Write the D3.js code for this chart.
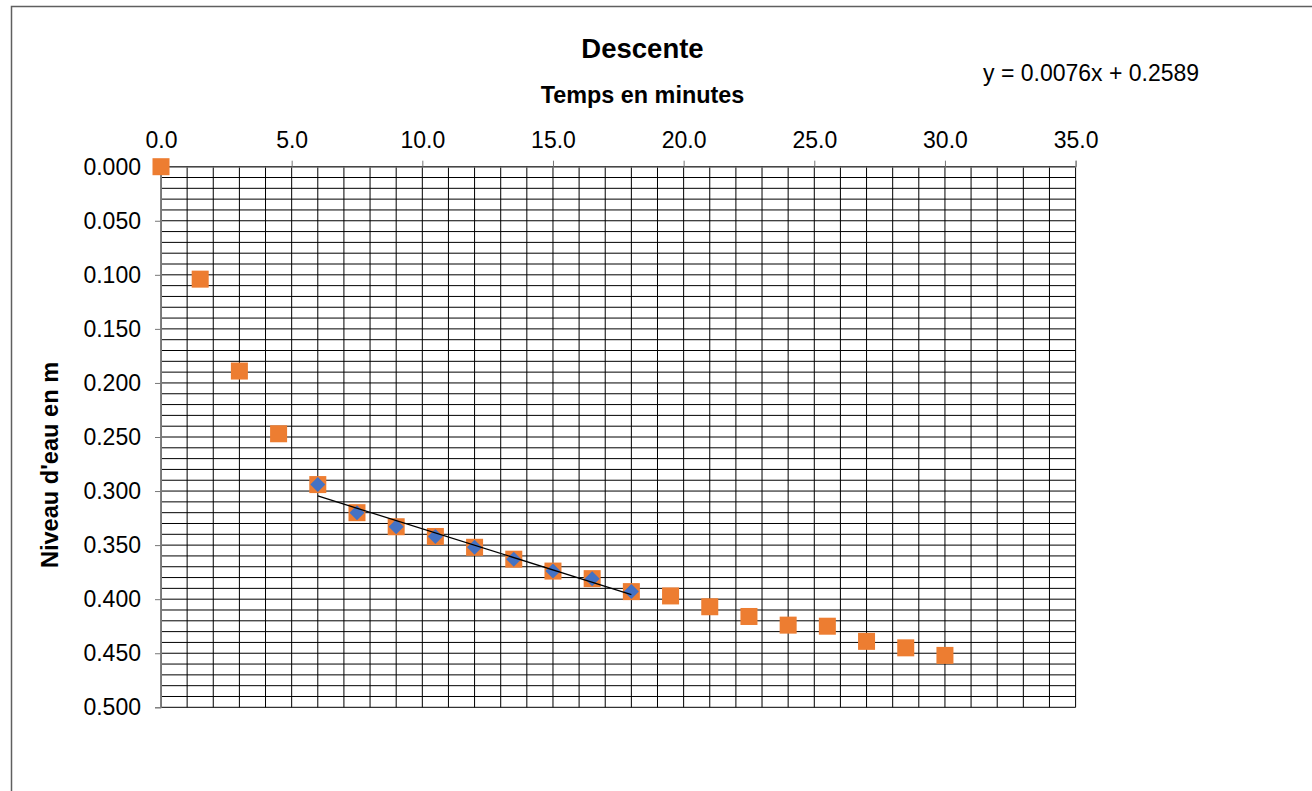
<!DOCTYPE html>
<html>
<head>
<meta charset="utf-8">
<script src="https://cdn.jsdelivr.net/npm/d3@7"></script>
<style>
  html, body { margin: 0; padding: 0; background: #fff; }
  svg { display: block; }
  text { font-family: "Liberation Sans", Arial, sans-serif; fill: #000; }
</style>
</head>
<body>
<svg id="chart" width="1312" height="791"></svg>
<script>
// ---- data ----
const chartTitle = "Descente";
const xAxisTitle = "Temps en minutes";
const yAxisTitle = "Niveau d'eau en m";
const equationLabel = "y = 0.0076x + 0.2589";

// all measurements (orange squares)
const timeAll = [0, 1.5, 3, 4.5, 6, 7.5, 9, 10.5, 12, 13.5, 15, 16.5, 18, 19.5, 21, 22.5, 24, 25.5, 27, 28.5, 30];
const levelAll = [0.000, 0.104, 0.189, 0.247, 0.294, 0.320, 0.333, 0.342, 0.352, 0.363, 0.374, 0.381, 0.393, 0.397, 0.407, 0.416, 0.424, 0.425, 0.439, 0.445, 0.452];

// subset used for the linear fit (blue diamonds)
const timeFit = [6, 7.5, 9, 10.5, 12, 13.5, 15, 16.5, 18];
const levelFit = [0.294, 0.320, 0.333, 0.342, 0.352, 0.363, 0.374, 0.381, 0.393];

// linear trendline
const trendSlope = 0.0076;
const trendIntercept = 0.2589;

// axis ticks
const xTickValues = [0, 5, 10, 15, 20, 25, 30, 35];
const yTickValues = [0, 0.05, 0.10, 0.15, 0.20, 0.25, 0.30, 0.35, 0.40, 0.45, 0.50];

// ---- drawing ----
const svg = d3.select("#chart");

// outer chart border
svg.append("path")
  .attr("d", "M11.5,795 L11.5,6.5 L1320,6.5")
  .attr("fill", "none")
  .attr("stroke", "#5f5f5f")
  .attr("stroke-width", 1.5);

const x = d3.scaleLinear().domain([0, 35]).range([161, 1075.6]);
const y = d3.scaleLinear().domain([0, 0.5]).range([166.7, 707.3]);

// gridlines
const grid = svg.append("g");
grid.selectAll("line.v")
  .data(d3.range(0, 36))
  .join("line")
  .attr("x1", d => x(d)).attr("x2", d => x(d))
  .attr("y1", y(0)).attr("y2", y(0.5))
  .attr("stroke", "#000").attr("stroke-width", 1);
grid.selectAll("line.h")
  .data(d3.range(0, 51).map(i => i / 100))
  .join("line")
  .attr("y1", d => y(d)).attr("y2", d => y(d))
  .attr("x1", x(0)).attr("x2", x(35))
  .attr("stroke", "#000").attr("stroke-width", 1);

// axes
const xAxis = d3.axisTop(x)
  .tickValues(xTickValues)
  .tickFormat(d3.format(".1f"))
  .tickSize(6)
  .tickPadding(13);
const gx = svg.append("g").attr("transform", `translate(0,${y(0)})`).call(xAxis);
gx.select(".domain").attr("stroke", "#777");
gx.selectAll(".tick line").attr("stroke", "#777");
gx.selectAll(".tick text")
  .attr("font-size", 23)
  .attr("font-family", "Liberation Sans, Arial, sans-serif")
  .attr("fill", "#000");

const yAxis = d3.axisLeft(y)
  .tickValues(yTickValues)
  .tickFormat(d3.format(".3f"))
  .tickSize(6)
  .tickPadding(14);
const gy = svg.append("g").attr("transform", `translate(${x(0)},0)`).call(yAxis);
gy.select(".domain").attr("stroke", "#777");
gy.selectAll(".tick line").attr("stroke", "#777");
gy.selectAll(".tick text")
  .attr("font-size", 23)
  .attr("font-family", "Liberation Sans, Arial, sans-serif")
  .attr("fill", "#000");

// orange squares (all data)
const sq = 17;
svg.append("g").selectAll("rect")
  .data(timeAll.map((t, i) => ({ t, v: levelAll[i] })))
  .join("rect")
  .attr("x", d => x(d.t) - sq / 2)
  .attr("y", d => y(d.v) - sq / 2)
  .attr("width", sq).attr("height", sq)
  .attr("fill", "#ED7D31");

// blue diamonds (fit subset)
const dm = 7.5;
svg.append("g").selectAll("path")
  .data(timeFit.map((t, i) => ({ t, v: levelFit[i] })))
  .join("path")
  .attr("d", d => {
    const cx = x(d.t), cy = y(d.v);
    return `M${cx},${cy - dm}L${cx + dm},${cy}L${cx},${cy + dm}L${cx - dm},${cy}Z`;
  })
  .attr("fill", "#4472C4");

// trendline
const tMin = d3.min(timeFit), tMax = d3.max(timeFit);
svg.append("line")
  .attr("x1", x(tMin)).attr("y1", y(trendSlope * tMin + trendIntercept))
  .attr("x2", x(tMax)).attr("y2", y(trendSlope * tMax + trendIntercept))
  .attr("stroke", "#000").attr("stroke-width", 1.3);

// texts
svg.append("text")
  .attr("x", 642.5).attr("y", 58)
  .attr("text-anchor", "middle")
  .attr("font-size", 27.5).attr("font-weight", "bold")
  .text(chartTitle);

svg.append("text")
  .attr("x", 642.5).attr("y", 103)
  .attr("text-anchor", "middle")
  .attr("font-size", 23.4).attr("font-weight", "bold")
  .text(xAxisTitle);

svg.append("text")
  .attr("transform", "translate(58,465) rotate(-90)")
  .attr("text-anchor", "middle")
  .attr("font-size", 23.6).attr("font-weight", "bold")
  .text(yAxisTitle);

svg.append("text")
  .attr("x", 983).attr("y", 81)
  .attr("font-size", 23)
  .text(equationLabel);
</script>
</body>
</html>
